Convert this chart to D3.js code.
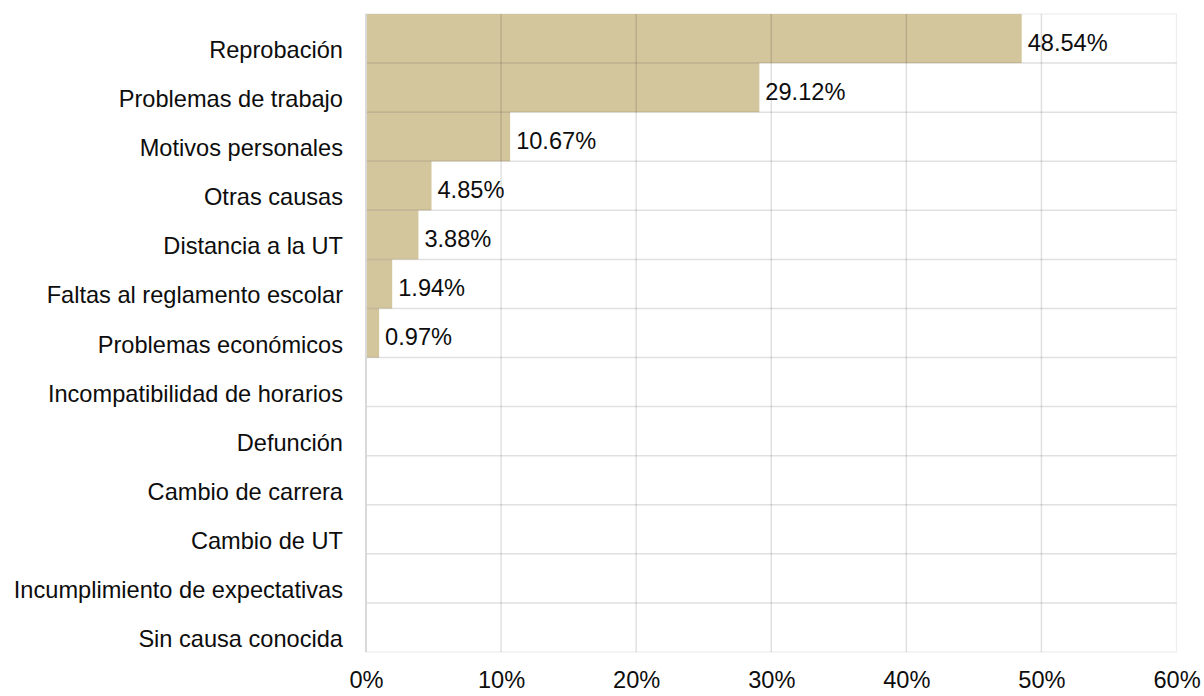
<!DOCTYPE html>
<html>
<head>
<meta charset="utf-8">
<script src="https://cdn.jsdelivr.net/npm/d3@7"></script>
<style>
  body { margin: 0; background: #fff; }
  text { font-family: "Liberation Sans", Arial, sans-serif; fill: #0d0d0d; }
</style>
</head>
<body>
<script>
const causes = [
    "Reprobación",
    "Problemas de trabajo",
    "Motivos personales",
    "Otras causas",
    "Distancia a la UT",
    "Faltas al reglamento escolar",
    "Problemas económicos",
    "Incompatibilidad de horarios",
    "Defunción",
    "Cambio de carrera",
    "Cambio de UT",
    "Incumplimiento de expectativas",
    "Sin causa conocida"
];
const percents = [48.54, 29.12, 10.67, 4.85, 3.88, 1.94, 0.97, 0, 0, 0, 0, 0, 0];
const ticks = [0, 10, 20, 30, 40, 50, 60];

const barColor = "#d3c59c";
const fontSize = "23.6px";

const width = 1204, height = 696;
const margin = { top: 14, right: 27.5, bottom: 44, left: 366 };

const svg = d3.select("body")
    .append("svg")
    .attr("width", width)
    .attr("height", height);

const x = d3.scaleLinear()
    .domain([0, 60])
    .range([margin.left, width - margin.right]);

const y = d3.scaleBand()
    .domain(causes)
    .range([margin.top, height - margin.bottom])
    .padding(0);

const data = causes.map((c, i) => ({ cause: c, value: percents[i] }));

// plot border
svg.append("rect")
    .attr("x", x(0))
    .attr("y", y.range()[0])
    .attr("width", x(60) - x(0))
    .attr("height", y.range()[1] - y.range()[0])
    .attr("fill", "none")
    .attr("stroke", "#efefef")
    .attr("stroke-width", 1.3);

// bars
svg.append("g")
    .selectAll("rect")
    .data(data)
    .join("rect")
    .attr("x", x(0))
    .attr("y", d => y(d.cause))
    .attr("width", d => x(d.value) - x(0))
    .attr("height", y.bandwidth())
    .attr("fill", barColor);

// grid drawn over the bars
const grid = svg.append("g")
    .attr("stroke", "#000")
    .attr("stroke-opacity", 0.12)
    .attr("stroke-width", 1.5);

grid.selectAll("line.v")
    .data(ticks.slice(1, -1))
    .join("line")
    .attr("class", "v")
    .attr("x1", d => x(d))
    .attr("x2", d => x(d))
    .attr("y1", y.range()[0])
    .attr("y2", y.range()[1]);

grid.selectAll("line.h")
    .data(causes.slice(1))
    .join("line")
    .attr("class", "h")
    .attr("x1", x(0))
    .attr("x2", x(60))
    .attr("y1", d => y(d))
    .attr("y2", d => y(d));

// zero line
svg.append("line")
    .attr("x1", x(0))
    .attr("x2", x(0))
    .attr("y1", y.range()[0])
    .attr("y2", y.range()[1])
    .attr("stroke", "#d9d9d9")
    .attr("stroke-width", 2);

// value labels
svg.append("g")
    .selectAll("text")
    .data(data.filter(d => d.value > 0))
    .join("text")
    .attr("x", d => x(d.value) + 6)
    .attr("y", d => y(d.cause) + y.bandwidth() / 2 + 4)
    .attr("dy", "0.35em")
    .style("font-size", fontSize)
    .text(d => d.value.toFixed(2) + "%");

// category axis
const yAxis = svg.append("g")
    .attr("transform", "translate(" + (x(0) - 23) + ",12)")
    .call(d3.axisLeft(y).tickSize(0).tickPadding(0));
yAxis.select(".domain").remove();
yAxis.selectAll("text")
    .style("font-size", fontSize)
    .attr("fill", "#0d0d0d");

// percent axis
const xAxis = svg.append("g")
    .attr("transform", "translate(0," + (y.range()[1] + 28) + ")")
    .call(d3.axisBottom(x).tickValues(ticks).tickSize(0).tickPadding(0)
        .tickFormat(d => d + "%"));
xAxis.select(".domain").remove();
xAxis.selectAll("text")
    .style("font-size", fontSize)
    .attr("fill", "#0d0d0d")
    .attr("dy", "0.35em");
</script>
</body>
</html>
